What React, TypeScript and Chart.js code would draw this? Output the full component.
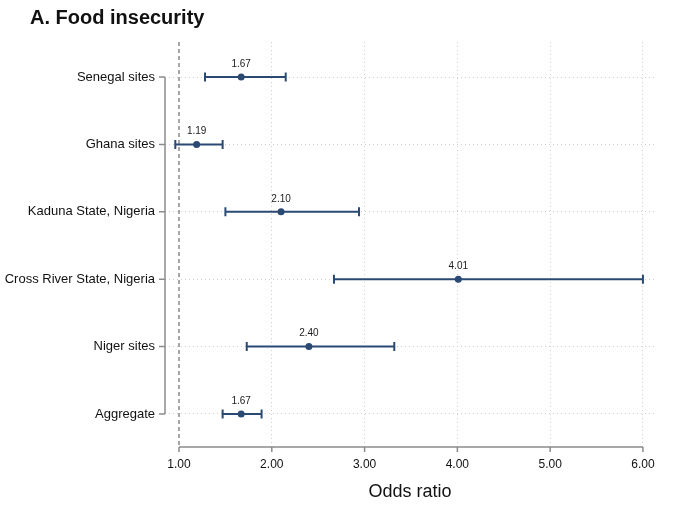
import React, { useRef, useEffect } from 'react';
import { Chart, registerables } from 'chart.js';
import type { Plugin } from 'chart.js';

Chart.register(...registerables);

const CATEGORIES = [
  'Senegal sites',
  'Ghana sites',
  'Kaduna State, Nigeria',
  'Cross River State, Nigeria',
  'Niger sites',
  'Aggregate',
];
const ODDS = [1.67, 1.19, 2.1, 4.01, 2.4, 1.67];
const CI_LOW = [1.28, 0.96, 1.5, 2.67, 1.73, 1.47];
const CI_HIGH = [2.15, 1.47, 2.94, 6.0, 3.32, 1.89];
const X_TICKS = [1, 2, 3, 4, 5, 6];
const REF_VALUE = 1;

const FONT = "'Liberation Sans', Arial, Helvetica, sans-serif";
const NAVY = '#2b4a73';
const AXIS = '#8c8c8c';
const GRID = '#cfcfcf';

const forestPlugin: Plugin<'scatter'> = {
  id: 'forest',
  beforeDatasetsDraw(chart) {
    const { ctx, chartArea } = chart;
    const x = chart.scales.x;
    const y = chart.scales.y;
    ctx.save();
    // reference line at OR = 1
    const rx = x.getPixelForValue(REF_VALUE);
    ctx.strokeStyle = '#8a8a8a';
    ctx.lineWidth = 1.5;
    ctx.setLineDash([4, 3]);
    ctx.beginPath();
    ctx.moveTo(rx, chartArea.top);
    ctx.lineTo(rx, chartArea.bottom);
    ctx.stroke();
    ctx.setLineDash([]);
    // confidence intervals
    ctx.strokeStyle = NAVY;
    ctx.lineWidth = 2;
    CATEGORIES.forEach((_, i) => {
      const py = y.getPixelForValue(i);
      const x0 = x.getPixelForValue(CI_LOW[i]);
      const x1 = x.getPixelForValue(CI_HIGH[i]);
      ctx.beginPath();
      ctx.moveTo(x0, py);
      ctx.lineTo(x1, py);
      ctx.moveTo(x0, py - 4.5);
      ctx.lineTo(x0, py + 4.5);
      ctx.moveTo(x1, py - 4.5);
      ctx.lineTo(x1, py + 4.5);
      ctx.stroke();
    });
    ctx.restore();
  },
  afterDatasetsDraw(chart) {
    const { ctx, chartArea } = chart;
    const x = chart.scales.x;
    const y = chart.scales.y;
    ctx.save();
    // value labels
    ctx.fillStyle = '#1a1a1a';
    ctx.font = `10px ${FONT}`;
    ctx.textAlign = 'center';
    ctx.textBaseline = 'middle';
    ODDS.forEach((v, i) => {
      ctx.fillText(v.toFixed(2), x.getPixelForValue(v), y.getPixelForValue(i) - 13);
    });
    // y axis, only across the categories
    ctx.strokeStyle = AXIS;
    ctx.lineWidth = 1.5;
    const ax = chartArea.left;
    ctx.beginPath();
    ctx.moveTo(ax, y.getPixelForValue(0));
    ctx.lineTo(ax, y.getPixelForValue(CATEGORIES.length - 1));
    CATEGORIES.forEach((_, i) => {
      const py = y.getPixelForValue(i);
      ctx.moveTo(ax - 6, py);
      ctx.lineTo(ax, py);
    });
    ctx.stroke();
    // x axis, only across the ticks
    const ay = chartArea.bottom;
    ctx.beginPath();
    ctx.moveTo(x.getPixelForValue(X_TICKS[0]), ay);
    ctx.lineTo(x.getPixelForValue(X_TICKS[X_TICKS.length - 1]), ay);
    X_TICKS.forEach((t) => {
      const px = x.getPixelForValue(t);
      ctx.moveTo(px, ay);
      ctx.lineTo(px, ay + 5);
    });
    ctx.stroke();
    // title
    ctx.fillStyle = '#111';
    ctx.font = `bold 20px ${FONT}`;
    ctx.textAlign = 'left';
    ctx.textBaseline = 'alphabetic';
    ctx.fillText('A. Food insecurity', 30, 24);
    ctx.restore();
  },
};

export default function App() {
  const ref = useRef<HTMLCanvasElement>(null);
  const chartRef = useRef<Chart<'scatter'> | null>(null);

  useEffect(() => {
    if (!ref.current) return;
    chartRef.current?.destroy();
    chartRef.current = new Chart(ref.current, {
      type: 'scatter',
      data: {
        datasets: [
          {
            data: ODDS.map((v, i) => ({ x: v, y: i })),
            pointRadius: 3.5,
            pointHoverRadius: 3.5,
            pointBackgroundColor: NAVY,
            pointBorderColor: NAVY,
            pointBorderWidth: 0,
          },
        ],
      },
      options: {
        animation: false,
        responsive: true,
        maintainAspectRatio: false,
        layout: { padding: { left: 0, right: 25, top: 42, bottom: 0 } },
        plugins: {
          legend: { display: false },
          tooltip: { enabled: false },
        },
        scales: {
          x: {
            type: 'linear',
            min: 0.849,
            max: 6.13,
            afterBuildTicks: (scale) => {
              scale.ticks = X_TICKS.map((v) => ({ value: v }));
            },
            afterFit: (scale) => {
              scale.height = 64;
            },
            ticks: {
              color: '#111',
              font: { family: FONT, size: 12 },
              padding: 10,
              maxRotation: 0,
              callback: (v) => Number(v).toFixed(2),
            },
            grid: {
              drawTicks: false,
              lineWidth: 1,
              color: (c) => (c.tick && c.tick.value === REF_VALUE ? 'transparent' : GRID),
            },
            border: { display: false, dash: [1, 3] },
            title: {
              display: true,
              text: 'Odds ratio',
              color: '#111',
              font: { family: FONT, size: 18 },
              padding: { top: 0, bottom: 8 },
            },
          },
          y: {
            type: 'linear',
            reverse: true,
            min: -0.52,
            max: 5.49,
            afterBuildTicks: (scale) => {
              scale.ticks = CATEGORIES.map((_, i) => ({ value: i }));
            },
            afterFit: (scale) => {
              scale.width = 165;
            },
            ticks: {
              color: '#111',
              font: { family: FONT, size: 13 },
              padding: 10,
              callback: (v) => CATEGORIES[Number(v)] ?? '',
            },
            grid: { drawTicks: false, lineWidth: 1, color: GRID },
            border: { display: false, dash: [1, 3] },
          },
        },
      },
      plugins: [forestPlugin],
    });
    return () => {
      chartRef.current?.destroy();
    };
  }, []);

  return (
    <div style={{ position: 'absolute', left: 0, top: 0, width: 680, height: 511, background: '#fff' }}>
      <canvas ref={ref} />
    </div>
  );
}
